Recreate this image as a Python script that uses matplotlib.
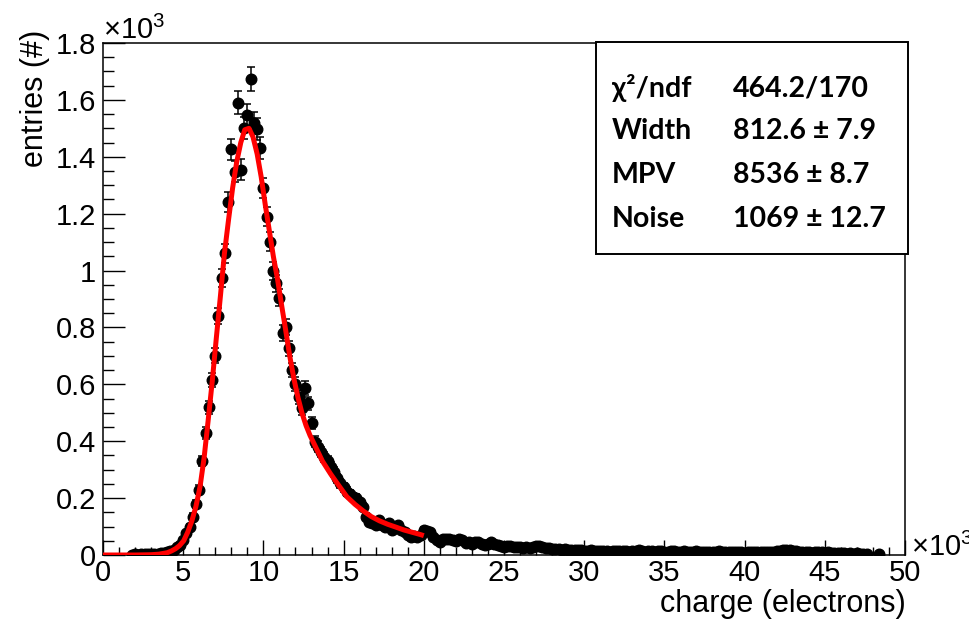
import numpy as np
import matplotlib
matplotlib.use("Agg")
import matplotlib.pyplot as plt

plt.rcParams['font.family'] = ['Liberation Sans', 'DejaVu Sans']
plt.rcParams['mathtext.fontset'] = 'custom'
plt.rcParams['mathtext.rm'] = 'Liberation Sans'
plt.rcParams['mathtext.it'] = 'Liberation Sans:italic'

# counts per 0.2k bin, starting at 1.8k electrons
counts = [
    1, 2, 1, 2, 3, 2, 4, 3, 5, 7,
    8, 11, 15, 19, 27, 36, 52, 76, 100, 135,
    180, 230, 330, 430, 520, 615, 700, 840, 975, 1060,
    1240, 1426, 1348, 1590, 1354, 1500, 1547, 1673, 1518, 1497,
    1430, 1290, 1190, 1102, 1000, 955, 905, 780, 800, 727,
    650, 600, 555, 516, 586, 533, 463, 398, 380, 362,
    345, 330, 310, 293, 270, 252, 238, 223, 215, 205,
    199, 185, 170, 135, 117, 111, 105, 123, 105, 100,
    111, 88, 95, 105, 88, 80, 70, 64, 66, 64,
    72, 88, 85, 82, 64, 52, 47, 58, 55, 58,
    53, 50, 58, 52, 41, 44, 40, 45, 47, 38,
    35, 40, 47, 38, 35, 32, 29, 30,
    30, 28, 27, 29, 26, 28, 25, 27, 30, 32, 28, 26, 24,
    22, 20, 21, 19, 20, 18, 19, 17, 18, 16,
    15, 14, 16, 13, 14, 15, 13, 14, 12, 15,
    14, 13, 15, 14, 12, 13, 14, 16, 13, 12,
    14, 13, 12, 14, 13, 11, 12, 13, 14, 12,
    11, 13, 12, 11, 12, 13, 11, 12, 10, 11,
    12, 11, 13, 12,
    10, 9, 11, 10, 9, 10, 8, 9, 10, 9, 11, 10, 9, 10, 11, 12, 13,
    15, 16, 17, 16, 15, 13, 12,
    10, 9, 10, 8, 9, 10, 9, 8, 9, 8, 7,
    7, 6, 7, 5, 6, 5, 6, 4, 5, 4,
]
bin_start = 1.8
bin_width = 0.2
extra_x = [48.4]
extra_counts = [2]

# fitted curve (k-electrons, k-entries)
fit_x = [0, 1, 2, 3, 3.5, 4, 4.26, 4.52, 4.77, 5.03, 5.28, 5.54, 5.79, 6.05, 6.3,
         6.55, 6.81, 7.06, 7.32, 7.57, 7.83, 8.08, 8.33, 8.59, 8.84, 9.1, 9.35,
         9.61, 9.86, 10.12, 10.37, 10.62, 10.88, 11.13, 11.39, 11.64, 11.9, 12.15,
         12.4, 12.66, 12.91, 13.17, 13.68, 14.19, 14.69, 15.2, 15.71, 16.22,
         16.73, 17.24, 17.75, 18.26, 18.76, 19.27, 19.78, 20.0]
fit_y = [0, 0, 0, 0.001, 0.003, 0.008, 0.014, 0.022, 0.033, 0.05, 0.08, 0.12,
         0.17, 0.24, 0.34, 0.47, 0.61, 0.76, 0.91, 1.06, 1.18, 1.29, 1.38, 1.45,
         1.495, 1.50, 1.47, 1.41, 1.33, 1.23, 1.14, 1.05, 0.97, 0.88, 0.79, 0.70,
         0.62, 0.555, 0.50, 0.455, 0.42, 0.39, 0.33, 0.285, 0.245, 0.205, 0.178,
         0.155, 0.135, 0.12, 0.108, 0.098, 0.088, 0.080, 0.072, 0.068]

stat_names = ["χ²/ndf", "Width", "MPV", "Noise"]
stat_values = ["464.2/170", "812.6 ± 7.9", "8536 ± 8.7", "1069 ± 12.7"]

x = np.concatenate([np.round(bin_start + bin_width * np.arange(len(counts)), 1), extra_x])
n = np.array(counts + extra_counts, dtype=float)
y = n / 1000.0
yerr = np.sqrt(n) / 1000.0

W, H = 969, 626
fig = plt.figure(figsize=(W / 100, H / 100), dpi=100)
ax = fig.add_axes([103 / W, 1 - 555 / H, 802 / W, 512 / H])

ax.errorbar(x, y, yerr=yerr, fmt='o', color='black', ms=7.6,
            elinewidth=1.1, capsize=3.0, capthick=1.1, zorder=2)
ax.plot(fit_x, fit_y, color='#ff0000', lw=3.6, zorder=3, solid_capstyle='butt')

ax.set_xlim(0, 50)
ax.set_ylim(0, 1.8)
ax.set_xticks(np.arange(0, 51, 5))
ax.set_xticks(np.arange(0, 51, 1), minor=True)
ax.set_yticks(np.arange(0, 1.81, 0.2))
ax.set_yticks(np.arange(0, 1.81, 0.05), minor=True)
ax.set_yticklabels(["0", "0.2", "0.4", "0.6", "0.8", "1", "1.2", "1.4", "1.6", "1.8"])
ax.tick_params(axis='both', which='both', direction='in', labelsize=21,
               top=False, right=False, width=1.0, color='black')
ax.tick_params(axis='y', which='major', length=15.5, pad=5)
ax.tick_params(axis='y', which='minor', length=7.8)
ax.tick_params(axis='x', which='major', length=10.8, pad=3)
ax.tick_params(axis='x', which='minor', length=5.6)
for s in ax.spines.values():
    s.set_linewidth(1.1)

fig.text(103 / W, 1 - 39 / H, r'$\times10^{3}$', fontsize=21, ha='left', va='baseline')
fig.text(911 / W, 1 - 556 / H, r'$\times10^{3}$', fontsize=21, ha='left', va='baseline')
fig.text(906 / W, 1 - 612 / H, 'charge (electrons)', fontsize=22, ha='right', va='baseline')
fig.text(35 / W, 1 - 30 / H, 'entries (#)', fontsize=22, rotation=90, ha='center', va='top')

# stats box
box = plt.Rectangle((596 / W, 1 - 254 / H), 312 / W, 212 / H, transform=fig.transFigure,
                    facecolor='white', edgecolor='black', lw=1.4, zorder=5)
fig.patches.append(box)
row_y = [88, 131, 175, 219]
for name, val, ry in zip(stat_names, stat_values, row_y):
    fig.text(612 / W, 1 - ry / H, name, fontsize=20.5, fontweight='bold',
             family=['Lato', 'DejaVu Sans'], ha='left', va='center', zorder=6)
    fig.text(733 / W, 1 - ry / H, val, fontsize=20.5, fontweight='bold',
             family=['Lato', 'DejaVu Sans'], ha='left', va='center', zorder=6)

fig.savefig('out.png', dpi=100)
